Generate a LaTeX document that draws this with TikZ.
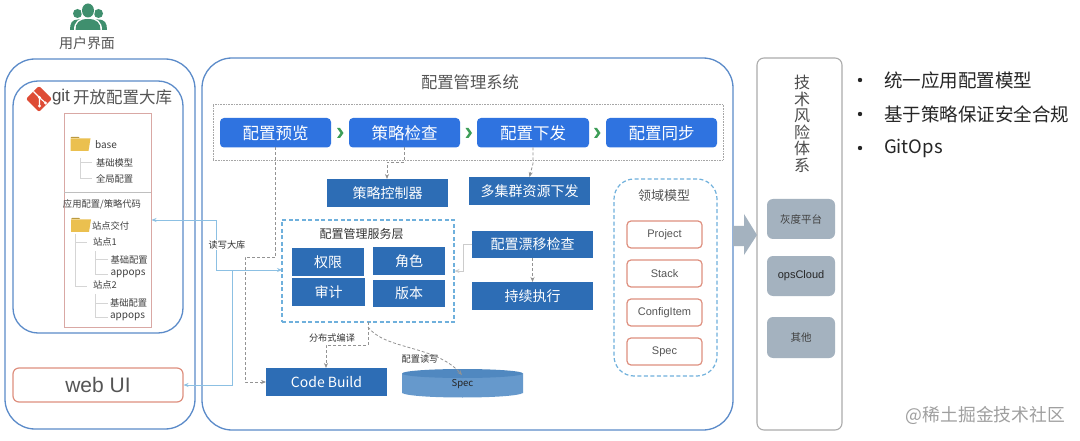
\documentclass[tikz,border=0pt]{standalone}
\usepackage{fontspec}
\setmainfont{Liberation Sans}
\newfontfamily\cjk{Noto Sans CJK SC}
\usetikzlibrary{arrows.meta,shapes.geometric}
\definecolor{frameblue}{HTML}{5B8BC9}
\definecolor{btnblue}{HTML}{2F73E0}
\definecolor{boxblue}{HTML}{2D6DB5}
\definecolor{dashblue}{HTML}{6FB0DC}
\definecolor{salmon}{HTML}{DE8F7E}
\definecolor{pinkline}{HTML}{D9A8A4}
\definecolor{greybox}{HTML}{A4B2BF}
\definecolor{txt}{HTML}{555555}
\definecolor{chev}{HTML}{3E9E58}
\definecolor{leaf}{HTML}{D5D5D5}
\definecolor{folder}{HTML}{EBC04F}
\definecolor{people}{HTML}{3F8F6E}
\definecolor{gitred}{HTML}{DE4C36}
\definecolor{cyl}{HTML}{6699CC}
\definecolor{cyltop}{HTML}{5088C0}
\tikzset{
  x=1pt,y=-1pt,
  every node/.style={font=\cjk,inner sep=0pt,outer sep=0pt},
  pill/.style={fill=btnblue,rounded corners=4pt,text=white,font=\cjk\fontsize{16.5}{17}\selectfont},
  bluebox/.style={fill=boxblue,text=white,font=\cjk\fontsize{14}{14}\selectfont},
  modelbox/.style={draw=salmon,line width=1.2pt,rounded corners=4pt,text=txt,font=\fontsize{11}{12}\selectfont},
  greyb/.style={fill=greybox,rounded corners=6pt,text=black!75,font=\cjk\fontsize{10.5}{12}\selectfont},
  dashg/.style={draw=gray!85,line width=0.8pt,dash pattern=on 3pt off 2pt},
  tipg/.style={-{Stealth[length=5pt,width=4pt]}},
  bluel/.style={draw=dashblue!80,line width=0.9pt},
  lab/.style={text=black!80,font=\cjk\fontsize{9.2}{10}\selectfont},
  tree/.style={text=black!75,font=\cjk\fontsize{9.3}{10}\selectfont},
  treelat/.style={text=black!75,font=\cjk\fontsize{10}{10}\selectfont},
  treel/.style={draw=leaf,line width=0.8pt},
  bul/.style={anchor=west,text=black!85,font=\cjk\fontsize{18.5}{20}\selectfont},
}
\newcommand{\bx}[7]{\node[#2,minimum width=#5-#3,minimum height=#6-#4,anchor=north west] (#1) at (#3,#4) {#7};}
\newcommand{\folderico}[2]{\fill[folder!80!black] (#1,#2) -- ++(1,-1) -- ++(7,0) -- ++(1,1) -- cycle;
  \fill[folder] (#1,#2+0.5) -- (#1+20,#2+0.5) -- (#1+18,#2+13) -- (#1,#2+13) -- cycle;}
\newcommand{\chevico}[2]{\fill[chev] (#1-3,#2-5) -- (#1,#2-5) -- (#1+3.5,#2) -- (#1,#2+5) -- (#1-3,#2+5) -- (#1+0.5,#2) -- cycle;}
\begin{document}
\begin{tikzpicture}
\useasboundingbox (0,0) rectangle (1080,441);
\fill[white] (0,0) rectangle (1080,441);
% people icon
\begin{scope}[people]
\fill (77.5,13.5) circle (4.5); \fill (98.5,13.5) circle (4.5);
\fill (70,30) .. controls (70,23) and (72,19.5) .. (78,19.5) -- (98,19.5) .. controls (105,19.5) and (107,23) .. (107,30) -- cycle;
\fill[white] (88,10.5) ellipse (7 and 8);
\fill (88,10.5) ellipse (6 and 7);
\fill[white] (74,30) .. controls (74,22) and (78,18) .. (88,18) .. controls (98,18) and (102,22) .. (102,30) -- cycle;
\fill (75.5,30) .. controls (75.5,23) and (79,19) .. (88,19) .. controls (97,19) and (100.5,23) .. (100.5,30) -- cycle;
\end{scope}
\node[text=txt,font=\cjk\fontsize{14}{14}\selectfont] (ui) at (87,43) {用户界面};
% frames
\node[draw=frameblue,line width=1.3pt,rounded corners=30pt,minimum width=190,minimum height=370,anchor=north west] (userframe) at (5,59) {};
\node[draw=frameblue,line width=1.3pt,rounded corners=25pt,minimum width=170,minimum height=252,anchor=north west] (gitframe) at (13,81) {};
\node[minimum width=87,minimum height=214,draw=pinkline,line width=0.9pt,anchor=north west] (repo) at (64,113.5) {};
\draw[draw=black!25,line width=0.7pt] (repo.west |- 0,192) -- (repo.east |- 0,192);
% git
\node[diamond,fill=gitred,minimum width=26,minimum height=26,rounded corners=2pt] (giticon) at (39,99) {};
\draw[white,line width=1.1pt] (33.5,91.5) -- (39.5,97.5) -- (39.5,106) (39.5,97.5) -- (45.5,103);
\fill[white] (39.5,97.5) circle (1.6) (39.5,106) circle (1.6) (45.5,103) circle (1.6);
\node[anchor=west,text=black!70,font=\fontsize{17}{18}\selectfont] (gitt) at (52,97) {git};
\node[anchor=west,text=txt,font=\cjk\fontsize{16.5}{18}\selectfont] (gitc) at (73,97.5) {开放配置大库};
% base tree
\folderico{70.5}{138}
\node[treelat,anchor=west] (base) at (95,144.5) {base};
\node[tree,anchor=west] (b1) at (96,163) {基础模型};
\node[tree,anchor=west] (b2) at (96,179) {全局配置};
\draw[treel] (80,158) |- (92,162) (80,162) |- (92,178);
\node[tree,anchor=center] (cfg) at (102,204) {应用配置/策略代码};
\folderico{71}{219}
\node[tree,anchor=west] (s0) at (92,225.5) {站点交付};
\node[tree,anchor=west] (s1) at (93,242) {站点1};
\node[tree,anchor=west] (s2) at (93,285) {站点2};
\node[tree,anchor=west] (s11) at (110.5,259.5) {基础配置};
\node[treelat,anchor=west] (s12) at (110.5,273.5) {appops};
\node[tree,anchor=west] (s21) at (110,303) {基础配置};
\node[treelat,anchor=west] (s22) at (110,317) {appops};
\draw[treel] (75,234) -- (75,286) -- (87,286) (75,242) -- (87,242);
\draw[treel] (95,251) -- (95,274) -- (108,274) (95,259) -- (108,259);
\draw[treel] (95,294) -- (95,317) -- (108,317) (95,303) -- (108,303);
% web ui
\node[draw=salmon,line width=1.2pt,rounded corners=6pt,text=txt,font=\fontsize{21}{22}\selectfont,minimum width=170,minimum height=34,anchor=north west] (webui) at (13,368) {web UI};
% main
\node[draw=frameblue,line width=1.3pt,rounded corners=30pt,minimum width=531,minimum height=372,anchor=north west] (mainf) at (202,58) {};
\node[text=txt,font=\cjk\fontsize{16.3}{17}\selectfont] (maint) at (470,82) {配置管理系统};
\node[minimum width=510,minimum height=56,anchor=north west,draw=gray!70,densely dotted,line width=0.6pt] (pipe) at (213,104) {};
\bx{preview}{pill}{220}{118}{331}{147.5}{配置预览}
\bx{check}{pill}{349}{118}{460}{147.5}{策略检查}
\bx{deploy}{pill}{477}{118}{589}{147.5}{配置下发}
\bx{sync}{pill}{606}{118}{717}{147.5}{配置同步}
\chevico{340}{133}
\chevico{468.5}{133}
\chevico{597}{133}
\bx{policy}{bluebox}{327}{179}{448}{207}{策略控制器}
\bx{multi}{bluebox}{469}{177}{590}{205}{多集群资源下发}
% service layer
\node[draw=dashblue,line width=1.3pt,dash pattern=on 4pt off 2.5pt,minimum width=172,minimum height=102,anchor=north west] (svc) at (282,220) {};
\node[text=black!80,font=\cjk\fontsize{12}{12}\selectfont] (svct) at (361.5,233.5) {配置管理服务层};
\bx{perm}{bluebox}{292}{248}{364}{276}{权限}
\bx{role}{bluebox}{373}{247}{445}{275}{角色}
\bx{audit}{bluebox}{292}{278}{365}{306}{审计}
\bx{ver}{bluebox}{373}{280}{445}{307}{版本}
\bx{drift}{bluebox}{472}{231}{593}{258}{配置漂移检查}
\bx{exec}{bluebox}{472}{282}{593}{310}{持续执行}
\bx{build}{bluebox}{266}{368}{387}{396}{Code Build}
% cylinder
\fill[cyl] (402,373.5) -- (402,393) .. controls (412,399) and (513,399) .. (523,393) -- (523,373.5) -- cycle;
\fill[cyltop] (462.5,373.5) ellipse (60.5 and 4.5);
\node[text=black!85,font=\cjk\fontsize{9.5}{10}\selectfont,minimum width=121,minimum height=28,anchor=north west] (spec) at (402,370) {\raisebox{-3pt}{Spec}};
\coordinate (specin) at (462,375);
% domain model
\node[draw=dashblue,line width=1.2pt,dash pattern=on 4pt off 2.5pt,rounded corners=20pt,minimum width=103,minimum height=197,anchor=north west] (domain) at (614,179) {};
\node[text=txt,font=\cjk\fontsize{13}{14}\selectfont] (domt) at (664,196) {领域模型};
\bx{mproj}{modelbox}{627}{221}{702}{248}{Project}
\bx{mstack}{modelbox}{627}{260}{702}{287}{Stack}
\bx{mitem}{modelbox}{627}{299}{702}{326}{ConfigItem}
\bx{mspec}{modelbox}{627}{338}{702}{365}{Spec}
% tech
\node[draw=gray!65,line width=1.1pt,rounded corners=7pt,minimum width=85,minimum height=372,anchor=north west] (tech) at (757,58) {};
\node[text=black!70,font=\cjk\fontsize{16}{16.5}\selectfont,align=center] (techt) at (802,124) {技\\术\\风\\险\\体\\系};
\bx{gray1}{greyb}{767}{199}{835}{239}{灰度平台}
\node[greyb,text=black!85,font=\fontsize{11}{12}\selectfont,minimum width=68,minimum height=40,anchor=north west] (gray2) at (767,256) {opsCloud};
\bx{gray3}{greyb}{767}{317}{835}{358}{其他}
\fill[greybox] (733,226) -- (744,226) -- (744,214) -- (757,235) -- (744,255) -- (744,246) -- (733,246) -- cycle;
% bullets
\foreach \yy in {80,114,148} \fill[black!85] (860,\yy) circle (2.2);
\node[bul] (p1) at (884,80) {统一应用配置模型};
\node[bul] (p2) at (884,114) {基于策略保证安全合规};
\node[bul] (p3) at (884,148) {GitOps};
% watermark
\node[anchor=east,text=gray!75,font=\cjk\fontsize{17.8}{18}\selectfont] (wm) at (1065,415) {@稀土掘金技术社区};
% connectors
\coordinate (b1) at (245,257);
\draw[dashg,tipg] (preview.south) |- (b1) -- (b1 |- build.west) -- (build.west);
\coordinate (b2) at (387,162);
\draw[dashg,tipg] (check.south) |- (b2) -- (b2 |- policy.north);
\draw[dashg,tipg] (deploy.south) -- ++(0,16) -- (multi.north);
\draw[dashg,tipg] (drift.south) -- (exec.north);
\coordinate (b3) at (326,345);
\draw[dashg,tipg] (svc.south) |- (b3) -- (b3 |- build.north);
\draw[dashg,tipg] (svc.south) ++(0,5) .. controls (385,350) and (435,345) .. (specin);
\coordinate (repoE) at (151.5,220);
\coordinate (svcW) at (282,270);
\coordinate (webE) at (183.5,385);
\coordinate (j1) at (232,270);
\draw[bluel,{Stealth[length=5pt,width=4pt]}-{Stealth[length=5pt,width=4pt]}] (repoE) -- (216,220) -- (216,270) -- (svcW);
\draw[bluel,tipg] (j1) |- (webE);
\coordinate (svcE) at (454.5,271);
\draw[draw=gray!40,line width=0.8pt,tipg] (drift.west) -- (463,244.5) -- (463,271) -- (svcE);
% labels
\node[lab,fill=white,inner sep=0.5pt] (l1) at (227,245) {读写大库};
\node[lab] (l2) at (332,338) {分布式编译};
\node[lab] (l3) at (420,359) {配置读写};
\end{tikzpicture}
\end{document}
